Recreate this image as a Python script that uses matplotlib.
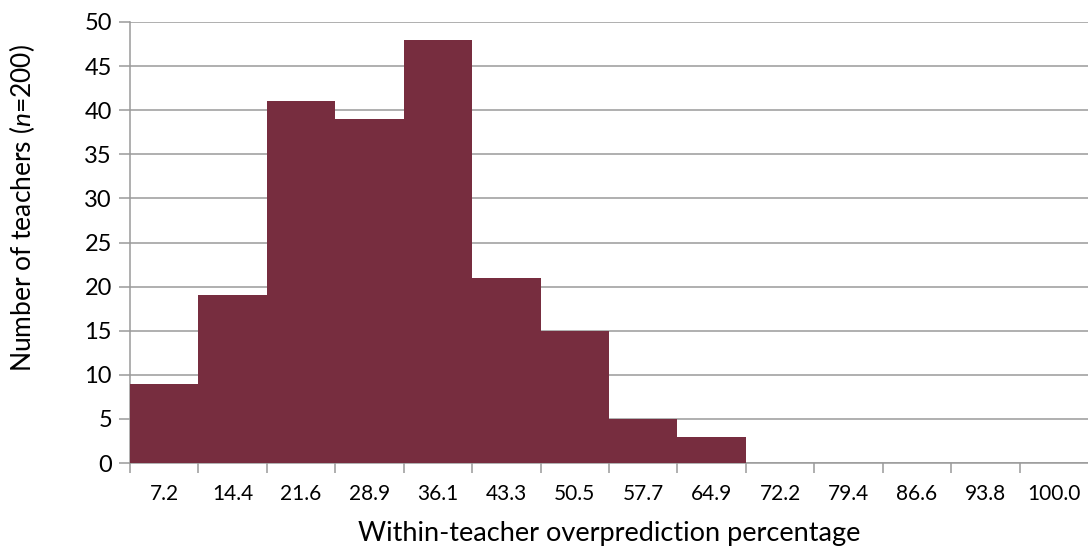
import matplotlib
matplotlib.use("Agg")
import matplotlib.pyplot as plt
import numpy as np

categories = ["7.2", "14.4", "21.6", "28.9", "36.1", "43.3", "50.5", "57.7",
              "64.9", "72.2", "79.4", "86.6", "93.8", "100.0"]
counts = [9, 19, 41, 39, 48, 21, 15, 5, 3, 0, 0, 0, 0, 0]
yticks = [0, 5, 10, 15, 20, 25, 30, 35, 40, 45, 50]

plt.rcParams['font.family'] = ['Lato', 'DejaVu Sans']
plt.rcParams['mathtext.fontset'] = 'custom'
plt.rcParams['mathtext.it'] = 'Lato:italic'
plt.rcParams['mathtext.rm'] = 'Lato'

W, H = 1088, 546
fig = plt.figure(figsize=(W / 100, H / 100), dpi=100)
ax = fig.add_axes([130 / W, (H - 463) / H, (1088 - 130) / W, (463 - 22) / H])

x = np.arange(len(categories))
ax.bar(x, counts, width=1.0, color="#772D3F", edgecolor="none", zorder=3)

ax.set_xlim(-0.5, len(categories) - 0.5)
ax.set_ylim(0, 50)
ax.set_yticks(yticks)
ax.set_yticklabels([str(v) for v in yticks], fontsize=17)
ax.yaxis.grid(True, color="#9a9a9a", linewidth=1.1, zorder=0)

ax.set_xticks(x)
ax.set_xticklabels(categories, fontsize=15)
ax.tick_params(axis='x', which='major', length=0, pad=15)
ax.set_xticks(np.arange(len(categories)) - 0.5, minor=True)
ax.tick_params(axis='x', which='minor', length=7, color="#9a9a9a", width=1.1)
ax.tick_params(axis='y', length=8, color="#9a9a9a", width=1.1, pad=5)

for s in ["top", "right"]:
    ax.spines[s].set_visible(False)
for s in ["left", "bottom"]:
    ax.spines[s].set_color("#9a9a9a")
    ax.spines[s].set_linewidth(1.1)

ax.set_xlabel("Within-teacher overprediction percentage", fontsize=19.5, labelpad=12)
ax.set_ylabel("Number of teachers ($\\mathit{n}$=200)", fontsize=19)
ax.yaxis.set_label_coords(-0.097, 0.578)

fig.savefig("out.png", dpi=100)
